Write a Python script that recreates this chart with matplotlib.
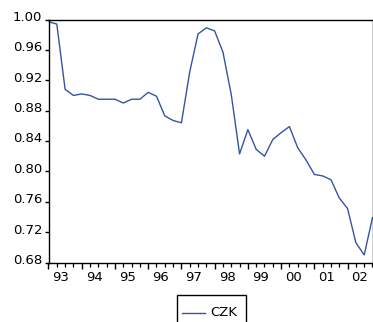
import numpy as np
import matplotlib
matplotlib.use("Agg")
from matplotlib import pyplot as plt
from matplotlib.transforms import ScaledTranslation
from matplotlib.lines import Line2D
from matplotlib.patches import Rectangle

# quarterly series, 1993Q1 .. 2002Q4
series_name = "CZK"
start_year = 1993
czk = [0.997, 0.994, 0.908, 0.900, 0.902, 0.900, 0.895, 0.895, 0.895, 0.890,
       0.895, 0.895, 0.904, 0.899, 0.873, 0.867, 0.864, 0.931, 0.981, 0.989,
       0.985, 0.957, 0.901, 0.823, 0.855, 0.829, 0.820, 0.842, 0.851, 0.859,
       0.831, 0.815, 0.796, 0.794, 0.789, 0.765, 0.751, 0.706, 0.690, 0.739]
year_labels = ["93", "94", "95", "96", "97", "98", "99", "00", "01", "02"]
y_ticks = [0.68, 0.72, 0.76, 0.80, 0.84, 0.88, 0.92, 0.96, 1.00]

plt.rcParams['font.family'] = ['DejaVu Sans']
plt.rcParams['font.size'] = 9.5

W, H = 373, 322
fig = plt.figure(figsize=(W / 100, H / 100), dpi=100)
ax = fig.add_axes([48.5 / W, 59.5 / H, 324 / W, 243 / H])

x = start_year + 0.25 * np.arange(len(czk))
line, = ax.plot(x, czk, color='#3753a3', lw=1.0)

ax.set_xlim(x[0], x[-1])
ax.set_ylim(0.68, 1.00)

years = start_year + np.arange(len(year_labels))
ax.set_xticks(years)
ax.set_xticklabels([])
ax.set_xticks([q for q in x if q not in years], minor=True)
ax.tick_params(axis='x', which='major', direction='out', length=4.0, width=1.0)
ax.tick_params(axis='x', which='minor', direction='out', length=2.8, width=0.9)

sec = ax.secondary_xaxis('bottom')
sec.set_xticks(years + 0.375, year_labels)
sec.tick_params(length=0, pad=6)
sec.spines['bottom'].set_visible(False)

ax.set_yticks(y_ticks)
ax.set_yticklabels(["%.2f" % v for v in y_ticks])
ax.tick_params(axis='y', direction='out', length=3.0, width=1.0, pad=1.5)
offset = ScaledTranslation(0, 3.5 / 100, fig.dpi_scale_trans)
for lab in ax.get_yticklabels():
    lab.set_transform(lab.get_transform() + offset)

for s in ax.spines.values():
    s.set_linewidth(1.0)
    s.set_color('black')

# legend box below the plot (bottom edge runs off the image)
def fx(px):
    return px / W

def fy(py):
    return 1 - py / H

fig.add_artist(Rectangle((fx(177), fy(332)), fx(245.5) - fx(177), fy(295) - fy(332),
                         transform=fig.transFigure, fill=False, edgecolor='black', lw=1.0))
fig.add_artist(Line2D([fx(182), fx(205)], [fy(313), fy(313)], transform=fig.transFigure,
                      color=line.get_color(), lw=1.0))
fig.text(fx(210.5), fy(313), series_name, va='center', ha='left')

fig.savefig("out.png", dpi=100)
